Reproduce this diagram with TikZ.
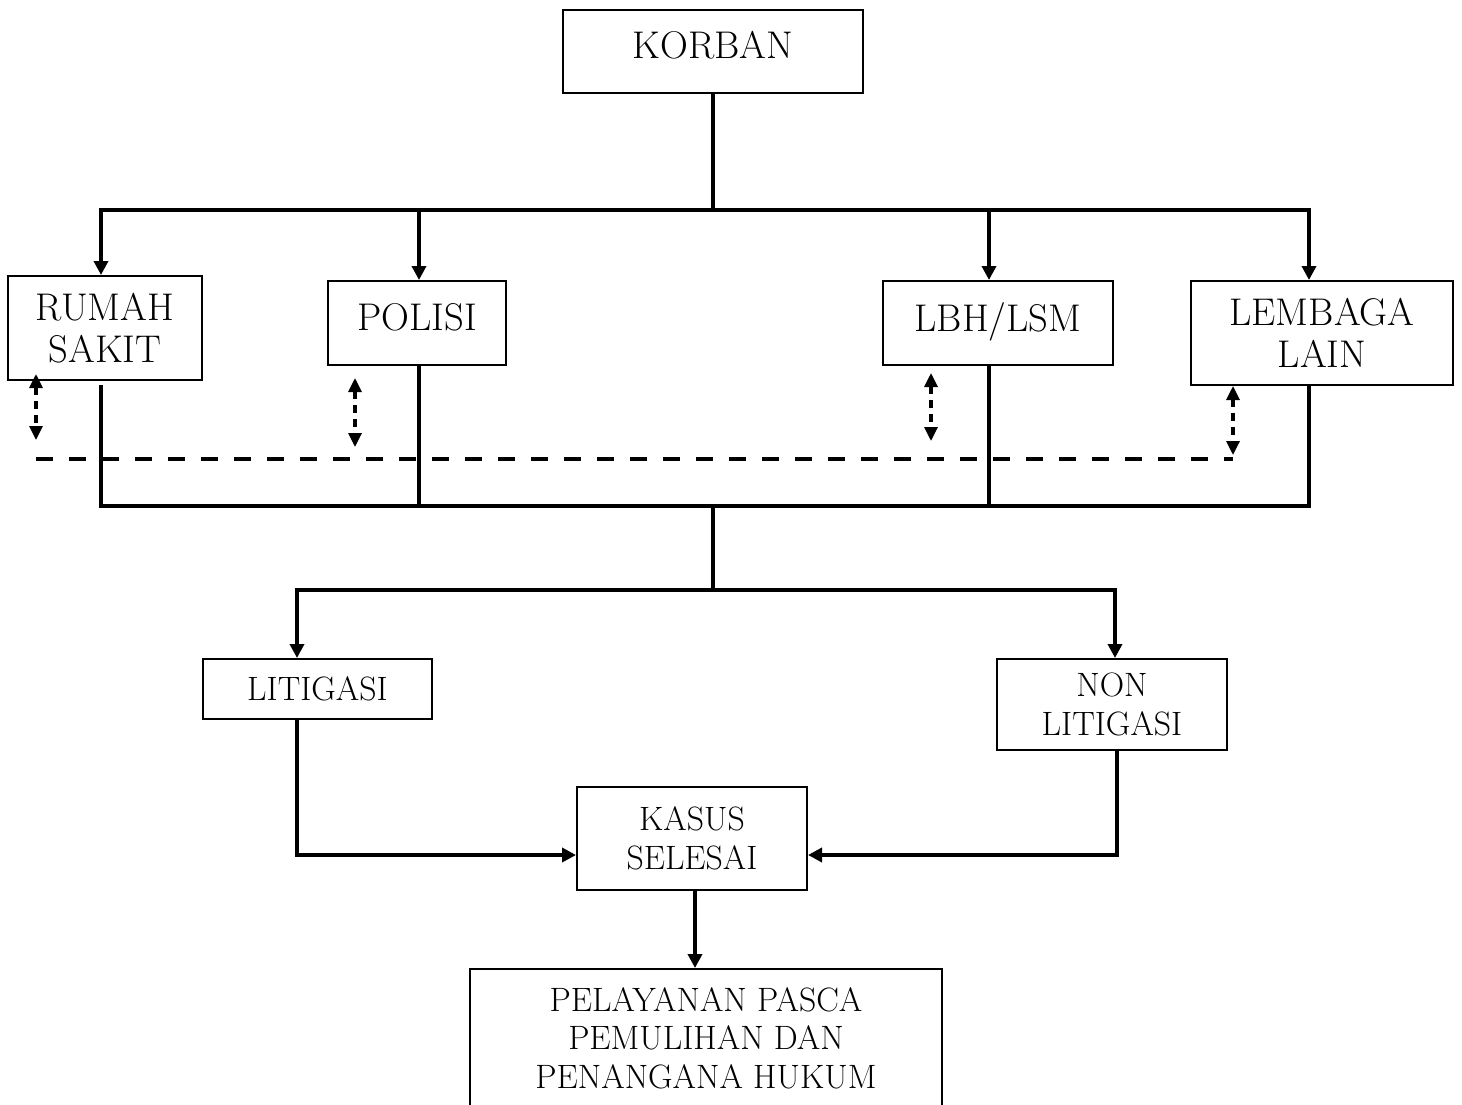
\documentclass[tikz,border=0pt]{standalone}
\usepackage{fontspec}
\usetikzlibrary{arrows.meta}

\begin{document}
\begin{tikzpicture}[x=0.5pt,y=-0.5pt,
	kotak/.style={draw,line width=1pt,inner sep=0pt,align=center,font=\fontsize{19.3}{21}\selectfont},
	kotakkecil/.style={kotak,font=\fontsize{16.9}{19.3}\selectfont},
	garis/.style={line width=2.2pt,line cap=rect},
	panah/.style={garis,-{Triangle[length=7pt,width=7pt]}},
	putus/.style={line width=2.2pt,dash pattern=on 8.5pt off 8pt},
	panahputus/.style={line width=1.6pt,dash pattern=on 4pt off 3pt,{Triangle[length=7pt,width=6.5pt]}-{Triangle[length=7pt,width=6.5pt]}}]
		\useasboundingbox (0,0) rectangle (1462,1104);
		% Kotak
		\node[kotak,minimum width=150pt,minimum height=41.5pt,text depth=6.5pt] (korban) at (713,51.5) {KORBAN};
		\node[kotak,minimum width=97pt,minimum height=52pt] (rs) at (105,328) {RUMAH\\SAKIT};
		\node[kotak,minimum width=89pt,minimum height=42pt,text depth=6pt] (polisi) at (417,323) {POLISI};
		\node[kotak,minimum width=115pt,minimum height=42pt,text depth=6pt] (lbh) at (998,323) {LBH/LSM};
		\node[kotak,minimum width=131pt,minimum height=52pt] (lain) at (1322,333) {LEMBAGA\\LAIN};
		\node[kotakkecil,minimum width=114.5pt,minimum height=30pt] (lit) at (317.5,689) {LITIGASI};
		\node[kotakkecil,minimum width=115pt,minimum height=45.5pt] (nonlit) at (1112,704.5) {NON\\LITIGASI};
		\node[kotakkecil,minimum width=115pt,minimum height=51.5pt] (kasus) at (692,838.5) {KASUS\\SELESAI};
		\node[kotakkecil,minimum width=236pt,minimum height=69pt] (pasca) at (706,1038) {PELAYANAN PASCA\\PEMULIHAN DAN\\PENANGANA HUKUM};
		\coordinate (atas) at (713,210);
		\coordinate (bawah) at (713,506);
		\coordinate (tengah) at (713,590);
		% Korban ke lembaga
		\draw[garis] (korban) -- (atas);
		\draw[garis] ([xshift=-2pt]rs.north |- atas) -- ([xshift=-6.5pt]lain.north |- atas);
		\foreach \n/\dx in {rs/-2pt,polisi/1pt,lbh/-4.5pt,lain/-6.5pt}{
		\draw[panah] ([xshift=\dx]\n.north |- atas) -- ([xshift=\dx]\n.north);
		}
		% Lembaga ke jalur hukum
		\foreach \n/\dx/\gap in {rs/-2pt/3pt,polisi/1pt/0pt,lbh/-4.5pt/0pt,lain/-6.5pt/0pt}{
		\draw[garis,shorten <=\gap] ([xshift=\dx]\n.south) -- ([xshift=\dx]\n.south |- bawah);
		}
		\draw[garis] ([xshift=-2pt]rs.south |- bawah) -- ([xshift=-6.5pt]lain.south |- bawah);
		\draw[garis] (bawah) -- (tengah);
		\draw[garis] ([xshift=-10.25pt]lit.north |- tengah) -- ([xshift=1.5pt]nonlit.north |- tengah);
		\draw[panah] ([xshift=-10.25pt]lit.north |- tengah) -- ([xshift=-10.25pt]lit.north);
		\draw[panah] ([xshift=1.5pt]nonlit.north |- tengah) -- ([xshift=1.5pt]nonlit.north);
		% Kasus selesai
		\draw[panah] ([xshift=-10.25pt]lit.south) |- ([yshift=-8.25pt]kasus.west);
		\draw[panah] ([xshift=2.5pt]nonlit.south) |- ([yshift=-8.25pt]kasus.east);
		\draw[panah] ([xshift=1.5pt]kasus.south) -- ([xshift=1.5pt]kasus.south |- pasca.north);
		% Koordinasi antar lembaga
		\coordinate (putuskiri) at (36,459);
		\coordinate (putuskanan) at (1233,459);
		\draw[putus] (putuskiri) -- (putuskanan);
		\foreach \i/\x/\a/\b in {1/36/374/440,2/355/378/447,3/931/373/441,4/1233/386/455}{
		\coordinate (pa\i) at (\x,\a);
		\coordinate (pb\i) at (\x,\b);
		\draw[panahputus] (pa\i) -- (pb\i);
		}
	\end{tikzpicture}
\end{document}
